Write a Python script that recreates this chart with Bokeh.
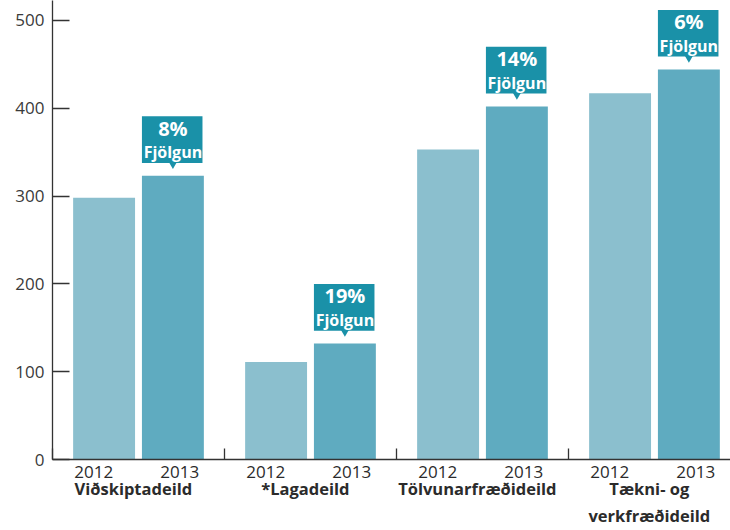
from bokeh.plotting import figure
from bokeh.models import FixedTicker, LinearAxis, Range1d, ColumnDataSource
from bokeh.core.properties import value
from bokeh.embed import file_html
from bokeh.resources import INLINE

# ---- data ----
groups = ["Viðskiptadeild", "*Lagadeild", "Tölvunarfræðideild", "Tækni- og\nverkfræðideild"]
years = ["2012", "2013"]
v2012 = [298, 111, 353, 417]
v2013 = [323, 132, 402, 444]
growth = ["8%", "19%", "14%", "6%"]
callout_word = "Fjölgun"
y_ticks = [0, 100, 200, 300, 400, 500]

# ---- layout helpers ----
GW = 100            # width of one group in x units
PX = 0.884          # pixels per y unit
def dy(px):
    return px / PX

n = len(groups)
x12 = [i * GW + 30 for i in range(n)]
x13 = [i * GW + 70 for i in range(n)]
BW = 36

FONT = "Open Sans"
C12 = "#8bbfce"
C13 = "#5fabc0"
CBOX = "#1a91a8"
TXT = "#2b2b2b"

p = figure(width=730, height=530, x_range=Range1d(0, 394.2), y_range=Range1d(0, 522.6),
           output_backend="svg", toolbar_location=None,
           min_border_left=52, min_border_right=0, min_border_top=0, min_border_bottom=68)
p.outline_line_color = None
p.grid.visible = False
p.background_fill_color = "white"
p.border_fill_color = "white"

src = ColumnDataSource(dict(
    x12=x12, x13=x13, v12=v2012, v13=v2013, g=growth,
    word=[callout_word] * n,
    bb=[v + dy(13) for v in v2013],
    bt=[v + dy(60) for v in v2013],
    bl=[x - BW / 2 for x in x13],
    br=[x + BW / 2 - 0.8 for x in x13],
    ty1=[v + dy(48) for v in v2013],
    ty2=[v + dy(24) for v in v2013],
    tri=[v + dy(12) for v in v2013],
))

p.vbar(x="x12", top="v12", width=BW, bottom=0, source=src, fill_color=C12, line_color=None)
p.vbar(x="x13", top="v13", width=BW, bottom=0, source=src, fill_color=C13, line_color=None)

# callouts
p.quad(left="bl", right="br", bottom="bb", top="bt", source=src, fill_color=CBOX, line_color=None)
p.scatter(x="x13", y="tri", marker="inverted_triangle", size=9, source=src,
          fill_color=CBOX, line_color=None)
p.text(x="x13", y="ty1", text="g", source=src, text_font=value(FONT), text_font_style="bold",
       text_font_size="20px", text_color="white", text_align="center", text_baseline="middle")
p.text(x="x13", y="ty2", text="word", source=src, text_font=value(FONT), text_font_style="bold",
       text_font_size="16px", text_color="white", text_align="center", text_baseline="middle")

# y axis
ya = p.yaxis[0]
ya.ticker = FixedTicker(ticks=y_ticks)
ya.major_tick_in = 17
ya.major_tick_out = 0
ya.minor_tick_line_color = None
ya.axis_line_color = "#333333"
ya.axis_line_width = 1.3
ya.major_tick_line_color = "#333333"
ya.major_tick_line_width = 1.3
ya.major_label_text_font = FONT
ya.major_label_text_font_size = "17px"
ya.major_label_text_color = "#3a3a3a"
ya.major_label_standoff = 8

# x axis with years
year_ticks = []
overrides = {}
for i in range(n):
    a, b = i * GW + 24, i * GW + 74
    year_ticks += [a, b]
    overrides[a] = years[0]
    overrides[b] = years[1]
xa = p.xaxis[0]
xa.ticker = FixedTicker(ticks=year_ticks, minor_ticks=[i * GW for i in range(n)])
xa.major_label_overrides = overrides
xa.major_tick_line_color = None
xa.major_tick_in = 0
xa.major_tick_out = 0
xa.minor_tick_in = 11
xa.minor_tick_out = 0
xa.minor_tick_line_color = "#333333"
xa.minor_tick_line_width = 1.3
xa.axis_line_color = "#333333"
xa.axis_line_width = 1.3
xa.major_label_text_font = FONT
xa.major_label_text_font_size = "17px"
xa.major_label_text_color = TXT
xa.major_label_standoff = 6

# x axis with department names
gt = [i * GW + 47 for i in range(n)]
ga = LinearAxis(ticker=FixedTicker(ticks=gt, minor_ticks=[]),
                major_label_overrides={t: g for t, g in zip(gt, groups)},
                axis_line_color=None, major_tick_line_color=None, minor_tick_line_color=None,
                major_tick_in=0, major_tick_out=0, minor_tick_in=0, minor_tick_out=0,
                major_label_standoff=-4,
                major_label_text_font=FONT, major_label_text_font_style="bold",
                major_label_text_font_size="16.5px", major_label_text_color=TXT)
p.add_layout(ga, "below")

open("out.html", "w").write(file_html(p, INLINE))
